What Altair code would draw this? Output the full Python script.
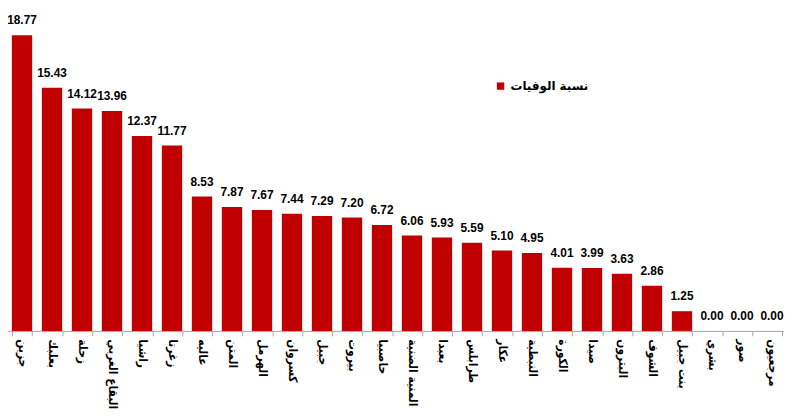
import altair as alt
import pandas as pd

districts = ["جزين", "بعلبك", "زحلة", "البقاع الغربي", "راشيا", "زغرتا", "عاليه", "المتن",
             "الهرمل", "كسروان", "جبيل", "بيروت", "حاصبيا", "المنية الضنية", "بعبدا", "طرابلس",
             "عكار", "النبطية", "الكورة", "صيدا", "البترون", "الشوف", "بنت جبيل", "بشري",
             "صور", "مرجعيون"]
values = [18.77, 15.43, 14.12, 13.96, 12.37, 11.77, 8.53, 7.87, 7.67, 7.44, 7.29, 7.20, 6.72,
          6.06, 5.93, 5.59, 5.10, 4.95, 4.01, 3.99, 3.63, 2.86, 1.25, 0.00, 0.00, 0.00]
series = "نسبة الوفيات"

df = pd.DataFrame({"district": districts, "value": values, "series": series})
df["label"] = df["value"].map(lambda v: f"{v:.2f}")

x = alt.X("district:N", sort=districts, title=None,
          scale=alt.Scale(paddingInner=0.32, paddingOuter=0.16),
          axis=alt.Axis(labelAngle=90, labelAlign="left", labelBaseline="middle",
                        labelFont="DejaVu Sans Condensed", labelFontSize=12,
                        labelFontWeight="bold", labelColor="#000000",
                        labelPadding=3, tickBand="extent", tickSize=5,
                        tickColor="#a6a6a6", domainColor="#a6a6a6", grid=False,
                        labelLimit=200))
y = alt.Y("value:Q", scale=alt.Scale(domain=[0, 20.38], nice=False), axis=None)

bars = alt.Chart(df).mark_bar(size=20.5).encode(
    x=x, y=y,
    color=alt.Color("series:N", scale=alt.Scale(range=["#C00000"]),
                    legend=alt.Legend(title=None, orient="none", legendX=492, legendY=71,
                                      symbolType="square", symbolSize=55,
                                      labelFont="DejaVu Sans", labelFontSize=12,
                                      labelFontWeight="bold", labelColor="#000000"))
)
text = alt.Chart(df).mark_text(dy=-8, baseline="bottom", font="Liberation Sans", fontSize=12,
                               fontWeight="bold", color="#000000").encode(
    x=alt.X("district:N", sort=districts), y=y, text="label:N")

chart = (bars + text).properties(
    width=787, height=324,
    autosize=alt.AutoSizeParams(type="none"),
    padding={"left": -1, "top": 0, "right": -3, "bottom": 78},
).configure_view(stroke=None)
chart.save("out.html", embed_options={"renderer": "svg", "actions": False})
